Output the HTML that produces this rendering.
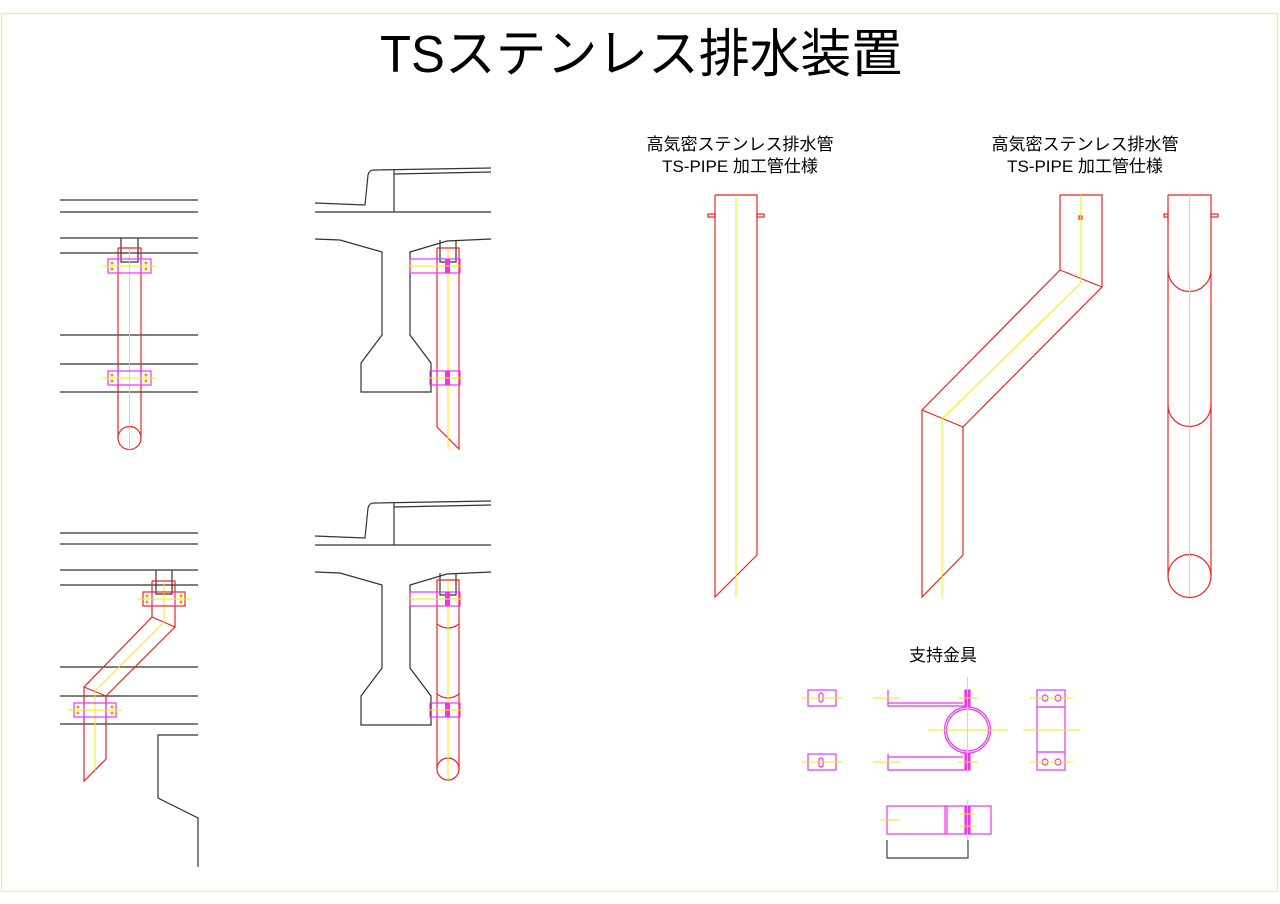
<!DOCTYPE html>
<html><head><meta charset="utf-8"><style>
html,body{margin:0;padding:0;background:#fff;width:1280px;height:904px;overflow:hidden}
svg{display:block}
text{font-family:"Liberation Sans","Noto Sans CJK JP",sans-serif;fill:#000}
</style></head><body>
<svg width="1280" height="904" viewBox="0 0 1280 904" xmlns="http://www.w3.org/2000/svg">
<rect x="1.5" y="13.5" width="1276" height="878" fill="none" stroke="#f2ec90" stroke-width="1.2"/>
<text x="641" y="72" font-size="52" text-anchor="middle" textLength="522" lengthAdjust="spacingAndGlyphs">TSステンレス排水装置</text>
<text x="740" y="150" font-size="17" text-anchor="middle">高気密ステンレス排水管</text>
<text x="740" y="172" font-size="17" text-anchor="middle">TS-PIPE 加工管仕様</text>
<text x="1085" y="150" font-size="17" text-anchor="middle">高気密ステンレス排水管</text>
<text x="1085" y="172" font-size="17" text-anchor="middle">TS-PIPE 加工管仕様</text>
<text x="943" y="661" font-size="17" text-anchor="middle">支持金具</text>

<g fill="none" stroke-width="1.2">
<!-- Drawing 1 -->
<g stroke="#333">
<path d="M60 200H198M60 212H198M60 238H198M60 253H198M60 335H198M60 364H198M60 392H198"/>
<path d="M121 238V262H138V238"/>
</g>
<g stroke="#e22">
<path d="M118 248H141V438M118 248V438"/>
<circle cx="129.5" cy="438" r="11.5"/>
</g>
<path d="M129.5 250V450" stroke="#ee0" stroke-width="1"/>
<g stroke="#e3e">
<rect x="108" y="259" width="43" height="14"/><path d="M118 259V273M141 259V273"/>
<rect x="108" y="371" width="43" height="14"/><path d="M118 371V385M141 371V385"/>
</g>
<path d="M102 266H157M102 378H157" stroke="#ee0" stroke-width="1"/>
<g fill="#e90" stroke="none"><circle cx="112" cy="263" r="1.5"/><circle cx="112" cy="269" r="1.5"/><circle cx="146" cy="263" r="1.5"/><circle cx="146" cy="269" r="1.5"/><circle cx="112" cy="375" r="1.5"/><circle cx="112" cy="381" r="1.5"/><circle cx="146" cy="375" r="1.5"/><circle cx="146" cy="381" r="1.5"/></g>

<!-- Drawing 2 -->
<g id="deck" stroke="#333">
<path d="M315 203L365 205L368 175Q369 170 374 170L491 168M394 174L491 172M394 170V212M315 212H491"/>
<path d="M315 239L340 240L382 252V335L361 363V392H431V363L410 335V252L447 241L491 239"/>
<path d="M440 240V262H456V240"/>
</g>
<g stroke="#e22"><path d="M437 248H459V449L437 427V248"/></g>
<path d="M448 250V449" stroke="#ee0" stroke-width="1"/>
<g stroke="#e3e">
<rect x="410" y="259" width="50" height="14"/><path d="M437 259V273"/>
<rect x="430" y="371" width="30" height="14"/><path d="M437 371V385"/>
</g>
<rect x="445" y="259" width="5" height="14" fill="#e3e" stroke="none"/>
<rect x="445" y="371" width="5" height="14" fill="#e3e" stroke="none"/>
<path d="M407 266H463M428 378H463" stroke="#ee0" stroke-width="1"/>

<!-- Drawing 3 -->
<g stroke="#333">
<path d="M60 533H198M60 544H198M60 570H198M60 585H198M60 667H198M60 696H198M60 724H198"/>
<path d="M156 570V594H172V570"/>
<path d="M198 735H158V798L198 818V867"/>
</g>
<g stroke="#e22">
<path d="M152 581H175V627L106 696V759L84 781V687L152 617V581M152 617L175 627M84 687L106 696"/>
</g>
<path d="M164 583V622L95 691V770" stroke="#ee0" stroke-width="1"/>
<g stroke="#e3e">
<rect x="143" y="592" width="42" height="14" stroke="#e22"/><path d="M152 592V606M175 592V606"/>
<rect x="74" y="703" width="42" height="14"/><path d="M84 703V717M106 703V717"/>
</g>
<path d="M137 599H191M68 710H122" stroke="#ee0" stroke-width="1"/>
<g fill="#e90" stroke="none"><circle cx="147" cy="596" r="1.5"/><circle cx="147" cy="602" r="1.5"/><circle cx="181" cy="596" r="1.5"/><circle cx="181" cy="602" r="1.5"/><circle cx="78" cy="707" r="1.5"/><circle cx="78" cy="713" r="1.5"/><circle cx="112" cy="707" r="1.5"/><circle cx="112" cy="713" r="1.5"/></g>

<!-- Drawing 4 -->
<use href="#deck" transform="translate(0,333)"/>
<g stroke="#e22">
<path d="M437 580H459V769M437 580V769"/>
<circle cx="448" cy="769" r="11"/>
<path d="M437 624Q448 632 459 624M437 694Q448 702 459 694"/>
</g>
<path d="M448 582V780" stroke="#ee0" stroke-width="1"/>
<g stroke="#e3e">
<rect x="410" y="592" width="50" height="14"/><path d="M437 592V606"/>
<rect x="430" y="703" width="30" height="14"/><path d="M437 703V717"/>
</g>
<rect x="445" y="592" width="5" height="14" fill="#e3e" stroke="none"/>
<rect x="445" y="703" width="5" height="14" fill="#e3e" stroke="none"/>
<path d="M407 599H463M428 710H463" stroke="#ee0" stroke-width="1"/>

<!-- Right pipes -->
<g stroke="#e22">
<path d="M715 195H757V555L715 597V195"/>
<rect x="708" y="214" width="7" height="3"/><rect x="757" y="214" width="7" height="3"/>
<path d="M1060 195H1102V287L963 427V555L922 597V410L1060 270V195M1060 270L1102 287M922 410L963 427"/>
<rect x="1079" y="216" width="3" height="3"/>
<path d="M1168 195H1211V576M1168 195V576M1168 270A21.5 21.5 0 0 0 1211 270M1168 405A21.5 21.5 0 0 0 1211 405"/>
<circle cx="1189.5" cy="576" r="21.5"/>
<rect x="1164" y="214" width="4" height="3"/><rect x="1211" y="214" width="7" height="3"/>
</g>
<g stroke="#ee0" stroke-width="1">
<path d="M736 195V597M1081 195V283L942 419V597M1189.5 195V597"/>
</g>

<!-- Support hardware -->
<g stroke="#e3e">
<rect x="808" y="690" width="28" height="16"/>
<rect x="808" y="754" width="28" height="16"/>
<rect x="819" y="693" width="4" height="9" rx="2"/>
<rect x="819" y="758" width="4" height="9" rx="2"/>
<path d="M888 690V706H965M888 754V770H965M888 703H963M888 757H963"/>
<rect x="965" y="690" width="5" height="16" fill="#e3e"/>
<rect x="965" y="754" width="5" height="16" fill="#e3e"/>
<circle cx="967.5" cy="730" r="23"/><circle cx="967.5" cy="730" r="21"/>
<rect x="1037" y="690" width="28" height="80"/>
<path d="M1037 707H1065M1037 752H1065"/>
<circle cx="1045" cy="698" r="3"/><circle cx="1058" cy="698" r="3"/>
<circle cx="1045" cy="762" r="3"/><circle cx="1058" cy="762" r="3"/>
<rect x="887" y="806" width="104" height="28"/>
<path d="M945 806V834M947 806V834"/>
<rect x="965" y="806" width="5" height="28" fill="#e3e"/>
</g>
<g stroke="#ee0" stroke-width="1">
<path d="M802 698H842M802 762H842M873 698H900M873 762H900M958 698H978M958 762H978M928 730H1008M967.5 677V773M1030 698H1073M1030 762H1073M1023 730H1080M880 820H900M960 814H975M960 826H975M967.5 800V842"/>
</g>
<path d="M887 840V858H968V840" stroke="#444"/>
</g>
</svg>
</body></html>
